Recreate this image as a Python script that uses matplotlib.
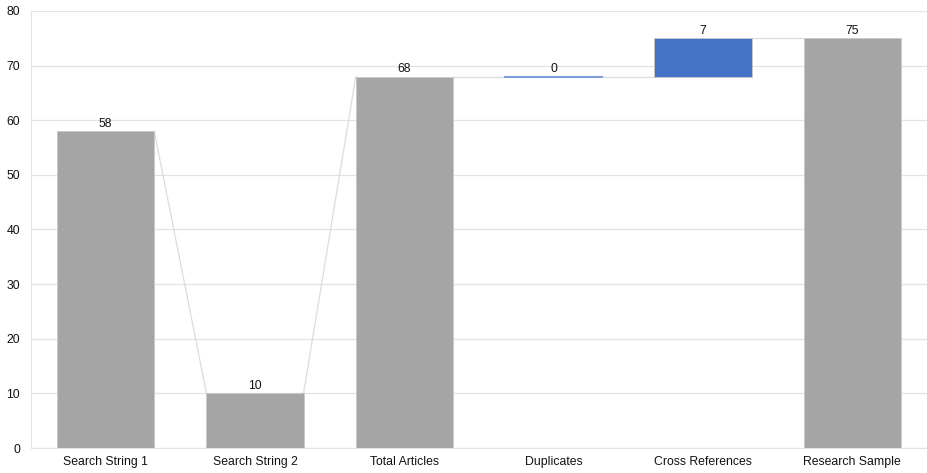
import numpy as np
import matplotlib.pyplot as plt

categories = ['Search String 1', 'Search String 2', 'Total Articles',
              'Duplicates', 'Cross References', 'Research Sample']
values = [58, 10, 68, 0, 7, 75]
bases = [0, 0, 0, 68, 68, 0]
is_total = [True, True, True, False, False, True]

gray = '#a5a5a5'
blue = '#4472c4'
line_col = '#dcdcdc'

plt.rcParams['font.family'] = ['Liberation Sans', 'DejaVu Sans']

fig = plt.figure(figsize=(9.27, 4.73), dpi=100)
ax = fig.add_axes([31 / 927, 25 / 473, 1 - 31 / 927, (448 - 11) / 473])

x = np.arange(len(categories))
w = 0.65
for i in range(len(categories)):
    col = gray if is_total[i] else blue
    if values[i] == 0:
        # zero step: just a thin line at the base
        ax.plot([x[i] - w / 2, x[i] + w / 2], [bases[i], bases[i]], color='#7f9fdc', lw=1.5, zorder=3)
    else:
        ax.bar(x[i], values[i], width=w, bottom=bases[i], color=col, edgecolor='#c8c8c8', lw=0.6, zorder=3)
    top = bases[i] + values[i]
    ax.text(x[i], top + 0.3, str(values[i]), ha='center', va='bottom', fontsize=8.8, color='#111111', zorder=4)

# connector lines: top of one bar to the start of the next
for i in range(len(categories) - 1):
    y1 = bases[i] + values[i]
    y2 = bases[i + 1] + values[i + 1] if is_total[i + 1] else bases[i + 1]
    ax.plot([x[i] + w / 2, x[i + 1] - w / 2], [y1, y2], color=line_col, lw=0.9, zorder=2)

ax.set_xlim(-0.5, len(categories) - 0.5)
ax.set_ylim(0, 80)
ax.set_yticks(range(0, 81, 10))
ax.set_xticks(x)
ax.set_xticklabels(categories)
ax.grid(axis='y', color='#e3e3e3', lw=0.9, zorder=0)
ax.set_axisbelow(True)
for s in ['top', 'right']:
    ax.spines[s].set_visible(False)
ax.spines['left'].set_color('#e3e3e3')
ax.spines['bottom'].set_color('#e3e3e3')
ax.tick_params(axis='both', length=0, labelsize=8.8, colors='#111111')
ax.tick_params(axis='y', pad=8)
ax.tick_params(axis='x', pad=6)

fig.savefig('out.png', dpi=100)
